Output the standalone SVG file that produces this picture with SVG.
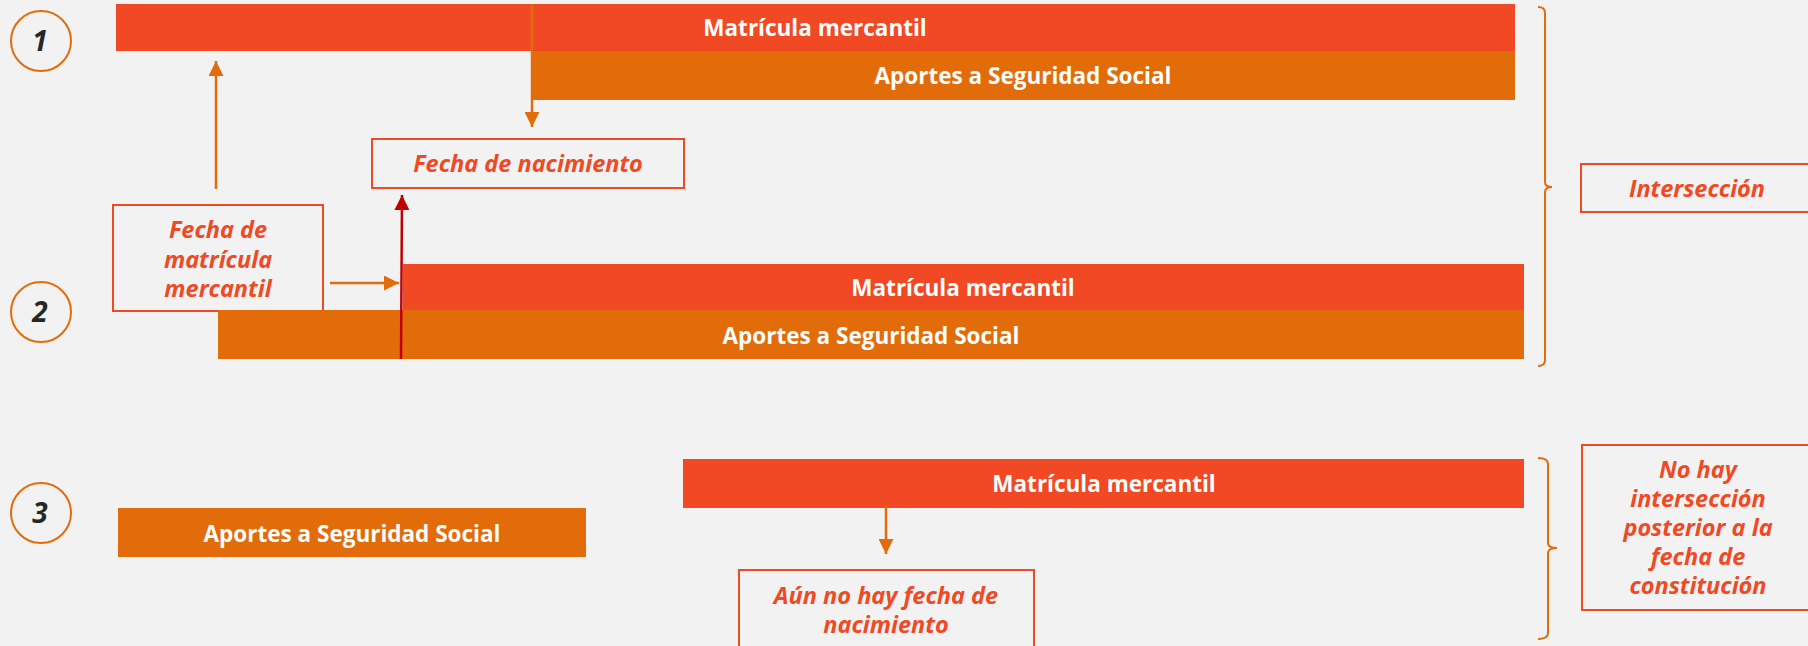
<svg xmlns="http://www.w3.org/2000/svg" width="1808" height="646" viewBox="0 0 1808 646">
<defs>
<style>
.bg{fill:#F2F2F2}
.red{fill:#F04923}
.org{fill:#E36C0A}
.bt{font-family:"Open Sans","Liberation Sans",sans-serif;font-weight:bold;font-size:22.5px;fill:#FFFFFF;text-anchor:middle}
.lbl{font-family:"Open Sans","Liberation Sans",sans-serif;font-weight:bold;font-style:italic;font-size:23.5px;fill:#F04923;text-anchor:middle}
.box{fill:none;stroke:#F04923;stroke-width:2}
.num{font-family:"Open Sans","Liberation Sans",sans-serif;font-weight:bold;font-style:italic;font-size:28px;fill:#262626;text-anchor:middle}
.circ{fill:none;stroke:#E36C0A;stroke-width:2}
.ln{fill:none;stroke:#E36C0A;stroke-width:2.5}
.dk{fill:none;stroke:#C00000;stroke-width:2.5}
.br{fill:none;stroke:#E36C0A;stroke-width:2}
</style>
<marker id="ao" viewBox="0 0 10 10" refX="10" refY="5" markerWidth="6" markerHeight="6" markerUnits="strokeWidth" orient="auto"><path d="M0,0 L10,5 L0,10 z" fill="#E36C0A"/></marker>
<marker id="ad" viewBox="0 0 10 10" refX="10" refY="5" markerWidth="6" markerHeight="6" markerUnits="strokeWidth" orient="auto"><path d="M0,0 L10,5 L0,10 z" fill="#C00000"/></marker>
</defs>
<rect class="bg" x="0" y="0" width="1808" height="646"/>

<g id="n1">
<ellipse class="circ" cx="41" cy="41" rx="30" ry="30"/>
<text class="num" x="40" y="51">1</text>
</g>
<g id="bar1-mm">
<rect class="red" x="116" y="4" width="1399" height="47"/>
<text class="bt" x="815" y="36">Matrícula mercantil</text>
</g>
<g id="bar1-ss">
<rect class="org" x="532" y="51" width="983" height="49"/>
<text class="bt" x="1023" y="84">Aportes a Seguridad Social</text>
</g>
<g id="fecha-nac">
<rect class="box" x="372" y="139" width="312" height="49"/>
<text class="lbl" x="528" y="172">Fecha de nacimiento</text>
</g>
<g id="fecha-mat">
<rect class="box" x="113" y="205" width="210" height="106"/>
<text class="lbl" x="218" y="238">Fecha de</text>
<text class="lbl" x="218" y="268">matrícula</text>
<text class="lbl" x="218" y="297">mercantil</text>
</g>

<g id="n2">
<ellipse class="circ" cx="41" cy="312" rx="30" ry="30"/>
<text class="num" x="40" y="322">2</text>
</g>
<g id="bar2-mm">
<rect class="red" x="403" y="264" width="1121" height="46"/>
<text class="bt" x="963" y="296">Matrícula mercantil</text>
</g>
<g id="bar2-ss">
<rect class="org" x="218" y="310" width="1306" height="49"/>
<text class="bt" x="871" y="344">Aportes a Seguridad Social</text>
</g>
<g id="interseccion">
<rect class="box" x="1581" y="164" width="240" height="48"/>
<text class="lbl" x="1697" y="197">Intersección</text>
</g>

<g id="n3">
<ellipse class="circ" cx="41" cy="513" rx="30" ry="30"/>
<text class="num" x="40" y="523">3</text>
</g>
<g id="bar3-ss">
<rect class="org" x="118" y="508" width="468" height="49"/>
<text class="bt" x="352" y="542">Aportes a Seguridad Social</text>
</g>
<g id="bar3-mm">
<rect class="red" x="683" y="459" width="841" height="49"/>
<text class="bt" x="1104" y="492">Matrícula mercantil</text>
</g>
<g id="aun-no">
<rect class="box" x="739" y="570" width="295" height="90"/>
<text class="lbl" x="886" y="604">Aún no hay fecha de</text>
<text class="lbl" x="886" y="633">nacimiento</text>
</g>
<g id="no-hay">
<rect class="box" x="1582" y="445" width="240" height="165"/>
<text class="lbl" x="1698" y="478">No hay</text>
<text class="lbl" x="1698" y="507">intersección</text>
<text class="lbl" x="1698" y="536">posterior a la</text>
<text class="lbl" x="1698" y="565">fecha de</text>
<text class="lbl" x="1698" y="594">constitución</text>
</g>

<g id="connectors">
<line class="ln" x1="532" y1="4" x2="532" y2="127" marker-end="url(#ao)"/>
<line class="ln" x1="216" y1="189" x2="216" y2="61" marker-end="url(#ao)"/>
<line class="ln" x1="330" y1="283" x2="399" y2="283" marker-end="url(#ao)"/>
<line class="dk" x1="401" y1="359" x2="402" y2="195" marker-end="url(#ad)"/>
<line class="ln" x1="886" y1="506" x2="886" y2="554" marker-end="url(#ao)"/>
<path class="br" d="M1538,7 Q1545,7 1545,13 L1545,182 Q1545,187 1552,187 Q1545,187 1545,192 L1545,360 Q1545,366 1538,366"/>
<path class="br" d="M1538,458 Q1548,458 1548,464 L1548,543 Q1548,548 1557,548 Q1548,548 1548,553 L1548,633 Q1548,639 1538,639"/>
</g>
</svg>
